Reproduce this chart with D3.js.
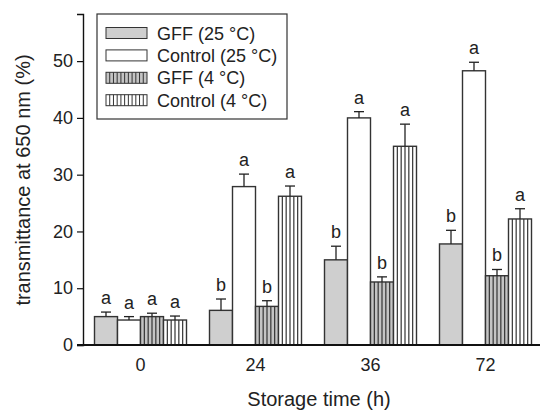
<!DOCTYPE html>
<html>
<head>
<meta charset="utf-8">
<script src="https://cdn.jsdelivr.net/npm/d3@7"></script>
<style>
  body { margin: 0; background: #fff; }
  text { font-family: Arial, "Liberation Sans", sans-serif; fill: #222; }
</style>
</head>
<body>
<svg></svg>
<script>
const times = ['0', '24', '36', '72'];
const seriesNames = ['GFF (25 °C)', 'Control (25 °C)', 'GFF (4 °C)', 'Control (4 °C)'];
const gff25 = [5.0, 6.1, 15.0, 17.8];
const gff25Err = [0.8, 2.0, 2.4, 2.4];
const ctrl25 = [4.4, 27.9, 40.0, 48.3];
const ctrl25Err = [0.6, 2.2, 1.1, 1.5];
const gff4 = [5.0, 6.8, 11.1, 12.2];
const gff4Err = [0.6, 1.0, 0.9, 1.1];
const ctrl4 = [4.4, 26.2, 35.0, 22.2];
const ctrl4Err = [0.7, 1.8, 3.9, 1.8];
const gff25Sig = ['a', 'b', 'b', 'b'];
const ctrl25Sig = ['a', 'a', 'a', 'a'];
const gff4Sig = ['a', 'b', 'b', 'b'];
const ctrl4Sig = ['a', 'a', 'a', 'a'];
const yTicks = [0, 10, 20, 30, 40, 50];

const svg = d3.select('svg')
	.attr('width', 540)
	.attr('height', 410);

const series = [
	{ name: seriesNames[0], values: gff25, err: gff25Err, sig: gff25Sig, fill: '#cfcfcf', hatch: false },
	{ name: seriesNames[1], values: ctrl25, err: ctrl25Err, sig: ctrl25Sig, fill: '#ffffff', hatch: false },
	{ name: seriesNames[2], values: gff4, err: gff4Err, sig: gff4Sig, fill: '#c4c4c4', hatch: true },
	{ name: seriesNames[3], values: ctrl4, err: ctrl4Err, sig: ctrl4Sig, fill: '#ffffff', hatch: true }
];

const data = [];
series.forEach((s, si) => {
	times.forEach((t, ti) => {
		data.push({ time: t, si, s, value: s.values[ti], err: s.err[ti], sig: s.sig[ti] });
	});
});

const axisX = 83, baseY = 345;

const x0 = d3.scaleBand()
	.domain(times)
	.range([axisX, 543])
	.paddingInner(0.2)
	.paddingOuter(0.1);

const x1 = d3.scaleBand()
	.domain(d3.range(series.length))
	.range([0, x0.bandwidth()]);

const y = d3.scaleLinear()
	.domain([0, 58.3])
	.range([baseY, 14]);

// bars
const bars = svg.append('g').selectAll('g')
	.data(data)
	.enter()
	.append('g');

bars.append('rect')
	.attr('x', d => x0(d.time) + x1(d.si))
	.attr('y', d => y(d.value))
	.attr('width', x1.bandwidth())
	.attr('height', d => baseY - y(d.value))
	.attr('fill', d => d.s.fill)
	.attr('stroke', '#333')
	.attr('stroke-width', 1.4);

bars.filter(d => d.s.hatch).each(function(d) {
	const bx = x0(d.time) + x1(d.si), bw = x1.bandwidth();
	d3.select(this).selectAll('line')
		.data(d3.range(1, 6))
		.enter()
		.append('line')
			.attr('x1', i => bx + i * bw / 6)
			.attr('x2', i => bx + i * bw / 6)
			.attr('y1', y(d.value))
			.attr('y2', baseY)
			.attr('stroke', '#333')
			.attr('stroke-width', 1.2);
});

// error bars
bars.append('line')
	.attr('x1', d => x0(d.time) + x1(d.si) + x1.bandwidth() / 2)
	.attr('x2', d => x0(d.time) + x1(d.si) + x1.bandwidth() / 2)
	.attr('y1', d => y(d.value))
	.attr('y2', d => y(d.value + d.err))
	.attr('stroke', '#222')
	.attr('stroke-width', 1.3);

bars.append('line')
	.attr('x1', d => x0(d.time) + x1(d.si) + x1.bandwidth() / 2 - 5)
	.attr('x2', d => x0(d.time) + x1(d.si) + x1.bandwidth() / 2 + 5)
	.attr('y1', d => y(d.value + d.err))
	.attr('y2', d => y(d.value + d.err))
	.attr('stroke', '#222')
	.attr('stroke-width', 1.3);

bars.append('text')
	.attr('x', d => x0(d.time) + x1(d.si) + x1.bandwidth() / 2)
	.attr('y', d => y(d.value + d.err) - 8)
	.attr('text-anchor', 'middle')
	.style('font-size', '18px')
	.text(d => d.sig);

// y axis
const yAxis = d3.axisLeft(y)
	.tickValues(yTicks)
	.tickSize(6)
	.tickPadding(4);

const yAxisG = svg.append('g')
	.attr('transform', `translate(${axisX}, 0)`)
	.call(yAxis);
yAxisG.select('.domain').attr('stroke', '#111').attr('stroke-width', 1.4);
yAxisG.selectAll('.tick line').attr('stroke', '#111').attr('stroke-width', 1.2);
yAxisG.selectAll('.tick text')
	.style('font-size', '18px')
	.attr('fill', '#222');

// x axis
const xAxis = d3.axisBottom(x0)
	.tickSize(0)
	.tickPadding(13);

const xAxisG = svg.append('g')
	.attr('transform', `translate(0, ${baseY})`)
	.call(xAxis);
xAxisG.select('.domain').remove();
xAxisG.append('line')
	.attr('x1', axisX - 6)
	.attr('x2', 540)
	.attr('stroke', '#111')
	.attr('stroke-width', 2.2);
xAxisG.selectAll('.tick text')
	.style('font-size', '18px')
	.attr('fill', '#222');

svg.append('text')
	.attr('x', 319)
	.attr('y', 406)
	.attr('text-anchor', 'middle')
	.style('font-size', '20px')
	.text('Storage time (h)');

svg.append('text')
	.attr('transform', 'translate(30, 180) rotate(-90)')
	.attr('text-anchor', 'middle')
	.style('font-size', '20px')
	.text('transmittance at 650 nm (%)');

// legend
const legend = svg.append('g');
legend.append('rect')
	.attr('x', 97)
	.attr('y', 14)
	.attr('width', 190)
	.attr('height', 105)
	.attr('fill', '#fff')
	.attr('stroke', '#333')
	.attr('stroke-width', 1.2);

const items = legend.selectAll('g.item')
	.data(series)
	.enter()
	.append('g')
		.attr('class', 'item')
		.attr('transform', (d, i) => `translate(106, ${33 + i * 22.4})`);

items.append('rect')
	.attr('x', 0)
	.attr('y', -5.5)
	.attr('width', 41)
	.attr('height', 11)
	.attr('fill', d => d.fill)
	.attr('stroke', '#333')
	.attr('stroke-width', 1);

items.filter(d => d.hatch).each(function() {
	d3.select(this).selectAll('line')
		.data(d3.range(1, 11))
		.enter()
		.append('line')
			.attr('x1', i => i * 41 / 11)
			.attr('x2', i => i * 41 / 11)
			.attr('y1', -5.5)
			.attr('y2', 5.5)
			.attr('stroke', '#333')
			.attr('stroke-width', 1);
});

items.append('text')
	.attr('x', 51)
	.attr('y', 6.5)
	.style('font-size', '18px')
	.text(d => d.name);
</script>
</body>
</html>
